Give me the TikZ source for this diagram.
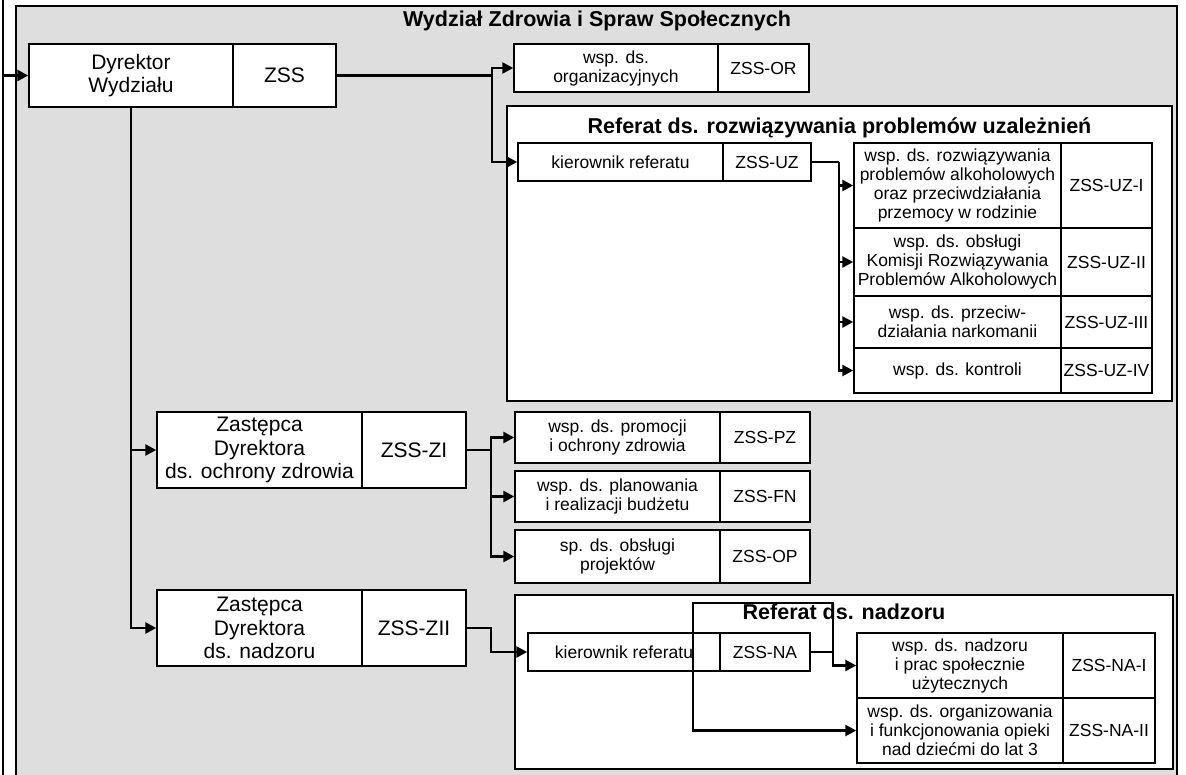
\documentclass[tikz,border=0pt]{standalone}
\usepackage{fontspec}
\setmainfont{Liberation Sans}
\usetikzlibrary{arrows.meta}
\begin{document}
\begin{tikzpicture}[x=1pt,y=-1pt,
  cell/.style={draw, fill=white, line width=1.5pt, inner sep=0pt, align=center, font=\fontsize{17.5}{19}\selectfont},
  big/.style={font=\fontsize{21}{23.5}\selectfont},
  conn/.style={line width=2.6pt},
  arr/.style={conn, -{Triangle[length=11pt,width=11pt]}},
  cont/.style={draw, fill=white, line width=1.5pt, inner sep=0pt},
  ttl/.style={font=\fontsize{21.5}{24}\selectfont\bfseries},
  bg/.style={fill=black!13}]
\useasboundingbox (0,0) rectangle (1186,774);
% outer frame
\fill[bg] (16,6) rectangle (1177,790);
\draw[line width=1.8pt] (16,790) -- (16,6) -- (1177,6) -- (1177,790);
\coordinate (ltop) at (3,-5);
\coordinate (lbot) at (3,790);
\draw[conn] (ltop) -- (lbot);
\node[ttl] (title) at (597,21) {Wydział Zdrowia i Spraw Społecznych};

% director
\node[cell,big,minimum width=204pt,minimum height=63pt] (dyr) at (131,75.5) {Dyrektor\\Wydziału};
\node[cell,big,minimum width=103pt,minimum height=63pt] (dyrc) at (284.5,75.5) {ZSS};
\coordinate (lin) at (3,75.5);
\draw[arr] (lin) -- (dyr.west);

% organizational
\node[cell,minimum width=204pt,minimum height=48pt] (or) at (616,68) {wsp. ds.\\organizacyjnych};
\node[cell,minimum width=91pt,minimum height=48pt] (orc) at (763.5,68) {ZSS-OR};

% UZ referat
\node[cont,minimum width=665pt,minimum height=295pt] (uzbox) at (839.5,253.5) {};
\node[ttl] (uzt) at (839.5,128) {Referat ds. rozwiązywania problemów uzależnień};
\node[cell,minimum width=205pt,minimum height=38pt] (uzk) at (620.5,162) {kierownik referatu};
\node[cell,minimum width=88pt,minimum height=38pt] (uzkc) at (767,162) {ZSS-UZ};
\node[cell,minimum width=207pt,minimum height=85pt] (uz1) at (957.5,185.5) {wsp. ds. rozwiązywania\\problemów alkoholowych\\oraz przeciwdziałania\\przemocy w rodzinie};
\node[cell,minimum width=91pt,minimum height=85pt] (uz1c) at (1106.5,185.5) {ZSS-UZ-I};
\node[cell,minimum width=207pt,minimum height=68pt] (uz2) at (957.5,262) {wsp. ds. obsługi\\Komisji Rozwiązywania\\Problemów Alkoholowych};
\node[cell,minimum width=91pt,minimum height=68pt] (uz2c) at (1106.5,262) {ZSS-UZ-II};
\node[cell,minimum width=207pt,minimum height=52pt] (uz3) at (957.5,322) {wsp. ds. przeciw-\\działania narkomanii};
\node[cell,minimum width=91pt,minimum height=52pt] (uz3c) at (1106.5,322) {ZSS-UZ-III};
\node[cell,minimum width=207pt,minimum height=45pt] (uz4) at (957.5,370.5) {wsp. ds. kontroli};
\node[cell,minimum width=91pt,minimum height=45pt] (uz4c) at (1106.5,370.5) {ZSS-UZ-IV};

% deputies
\node[cell,big,minimum width=205pt,minimum height=76pt] (zi) at (259.5,450) {Zastępca\\Dyrektora\\ds. ochrony zdrowia};
\node[cell,big,minimum width=104pt,minimum height=76pt] (zic) at (414,450) {ZSS-ZI};
\node[cell,big,minimum width=205pt,minimum height=76pt] (zii) at (259.5,628) {Zastępca\\Dyrektora\\ds. nadzoru};
\node[cell,big,minimum width=104pt,minimum height=76pt] (ziic) at (414,628) {ZSS-ZII};

% ZI children
\node[cell,minimum width=205pt,minimum height=51pt] (pz) at (617.5,437.5) {wsp. ds. promocji\\i ochrony zdrowia};
\node[cell,minimum width=90pt,minimum height=51pt] (pzc) at (765,437.5) {ZSS-PZ};
\node[cell,minimum width=205pt,minimum height=51pt] (fn) at (617.5,496.5) {wsp. ds. planowania\\i realizacji budżetu};
\node[cell,minimum width=90pt,minimum height=51pt] (fnc) at (765,496.5) {ZSS-FN};
\node[cell,minimum width=205pt,minimum height=53pt] (op) at (617.5,556.5) {sp. ds. obsługi\\projektów};
\node[cell,minimum width=90pt,minimum height=53pt] (opc) at (765,556.5) {ZSS-OP};

% NA referat
\node[cont,minimum width=658pt,minimum height=174pt] (nabox) at (844,682) {};
\node[ttl] (nat) at (844,612) {Referat ds. nadzoru};
\node[cell,minimum width=192pt,minimum height=38pt] (nak) at (624,652) {kierownik referatu};
\node[cell,minimum width=90pt,minimum height=38pt] (nakc) at (765,652) {ZSS-NA};
\node[cell,minimum width=206pt,minimum height=65pt] (na1) at (960,665.5) {wsp. ds. nadzoru\\i prac społecznie\\użytecznych};
\node[cell,minimum width=92pt,minimum height=65pt] (na1c) at (1109,665.5) {ZSS-NA-I};
\node[cell,minimum width=206pt,minimum height=65pt] (na2) at (960,730.5) {wsp. ds. organizowania\\i funkcjonowania opieki\\nad dziećmi do lat 3};
\node[cell,minimum width=92pt,minimum height=65pt] (na2c) at (1109,730.5) {ZSS-NA-II};

% connectors
\coordinate (j1) at (492,75.5);
\draw[conn] (dyrc.east) -- (j1);
\draw[arr] (j1) |- (or.west);
\draw[arr] (j1) |- (uzk.west);

\coordinate (j2) at (839,162);
\draw[conn] (uzkc.east) -- (j2);
\draw[arr] (j2) |- (uz1.west);
\draw[arr] (j2) |- (uz2.west);
\draw[arr] (j2) |- (uz3.west);
\draw[arr] (j2) |- (uz4.west);

\draw[arr] (dyr.south) |- (zi.west);
\draw[arr] (dyr.south) |- (zii.west);

\coordinate (j3) at (491,450);
\draw[conn] (zic.east) -- (j3);
\draw[arr] (j3) |- (pz.west);
\draw[arr] (j3) |- (fn.west);
\draw[arr] (j3) |- (op.west);

\coordinate (j4a) at (491,628);
\coordinate (j4b) at (491,652);
\draw[arr] (ziic.east) -- (j4a) -- (j4b) -- (nak.west);

\coordinate (j5) at (833,652);
\coordinate (j5t) at (833,603);
\coordinate (j5l) at (693,603);
\draw[conn] (nakc.east) -- (j5);
\draw[arr] (j5) |- (na1.west);
\draw[arr] (j5) -- (j5t) -- (j5l) |- (na2.west);
\end{tikzpicture}
\end{document}
